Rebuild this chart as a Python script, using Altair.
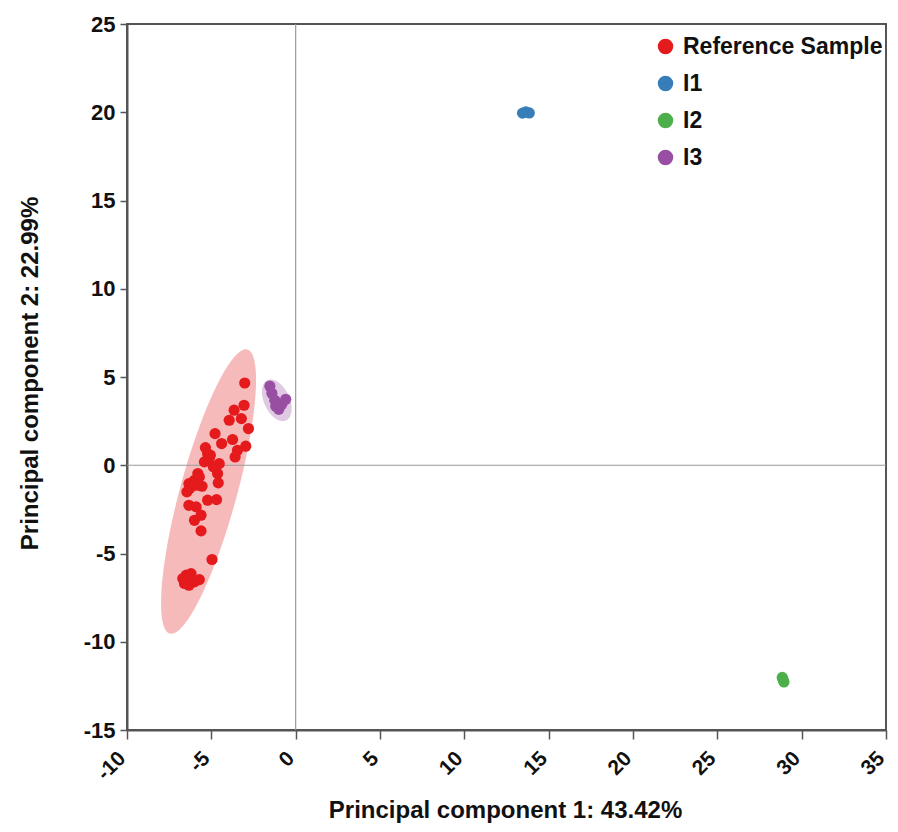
import numpy as np
import pandas as pd
import altair as alt

# ---- data ----
groups = ["Reference Sample", "I1", "I2", "I3"]
colors = ["#E41A1C", "#377EB8", "#4DAF4A", "#984EA3"]

ref_x = [-3.02, -3.06, -3.65, -3.94, -3.22, -2.80, -4.78, -4.39, -3.74, -2.96,
         -3.45, -3.59, -5.35, -5.06, -5.41, -4.53, -4.88, -5.80, -4.63, -6.00,
         -4.59, -6.33, -5.55, -6.45, -5.22, -4.69, -6.33, -5.90, -5.61, -6.00,
         -5.61, -4.96, -6.49, -6.20, -5.71, -6.59, -6.33, -6.69, -6.00, -5.12,
         -5.22, -5.71, -6.29, -5.90]
ref_y = [4.66, 3.40, 3.12, 2.55, 2.64, 2.08, 1.79, 1.23, 1.46, 1.08,
         0.85, 0.47, 1.00, 0.57, 0.19, 0.09, -0.09, -0.47, -0.47, -0.85,
         -1.00, -1.04, -1.19, -1.51, -1.98, -1.95, -2.27, -2.36, -2.83, -3.12,
         -3.72, -5.34, -6.23, -6.14, -6.48, -6.70, -6.80, -6.42, -6.61, 0.38,
         0.66, -0.66, -1.32, -1.13]

i1_x = [13.45, 13.65, 13.85]
i1_y = [19.95, 20.02, 19.96]

i2_x = [28.85, 28.95, 28.90]
i2_y = [-12.02, -12.28, -12.15]

i3_x = [-1.53, -1.41, -1.24, -1.18, -1.00, -0.82, -0.59]
i3_y = [4.48, 4.08, 3.68, 3.34, 3.17, 3.46, 3.74]

# confidence ellipses: centre x, centre y, semi-major, semi-minor, angle (deg)
ell_groups = ["Reference Sample", "I3"]
ell_cx = [-5.165, -1.12]
ell_cy = [-1.49, 3.68]
ell_a = [8.37, 1.27]
ell_b = [1.68, 0.75]
ell_angle = [74.0, -63.0]

x_ticks = list(range(-10, 40, 5))
y_ticks = list(range(-15, 30, 5))

# ---- tables ----
pts = pd.concat([
    pd.DataFrame({"x": ref_x, "y": ref_y, "g": "Reference Sample"}),
    pd.DataFrame({"x": i1_x, "y": i1_y, "g": "I1"}),
    pd.DataFrame({"x": i2_x, "y": i2_y, "g": "I2"}),
    pd.DataFrame({"x": i3_x, "y": i3_y, "g": "I3"}),
], ignore_index=True)

t = np.linspace(0, 2 * np.pi, 160, endpoint=False)
ell_rows = []
for g, cx, cy, a, b, ang in zip(ell_groups, ell_cx, ell_cy, ell_a, ell_b, ell_angle):
    p = np.deg2rad(ang)
    ex = cx + a * np.cos(t) * np.cos(p) - b * np.sin(t) * np.sin(p)
    ey = cy + a * np.cos(t) * np.sin(p) + b * np.sin(t) * np.cos(p)
    ell_rows.append(pd.DataFrame({"x": ex, "y": ey, "g": g, "i": np.arange(len(t))}))
ell = pd.concat(ell_rows, ignore_index=True)

FONT = "Liberation Sans, Arial, sans-serif"

xscale = alt.Scale(domain=[-10, 35], nice=False, zero=False)
yscale = alt.Scale(domain=[-15, 25], nice=False, zero=False)
cscale = alt.Scale(domain=groups, range=colors)

xaxis = alt.Axis(values=x_ticks, grid=False, title="Principal component 1: 43.42%",
                 labelAngle=315, labelAlign="right", labelBaseline="middle",
                 labelPadding=16, labelOffset=-5, labelExpr="'' + datum.value",
                 labelFontSize=21, tickSize=9,
                 titleX=378, titleY=80, titleBaseline="middle", titleAlign="center")
yaxis = alt.Axis(values=y_ticks, grid=False, title="Principal component 2: 22.99%",
                 labelExpr="'' + datum.value", labelPadding=5, tickSize=7,
                 titleX=-97, titleY=349, titleAngle=270, titleBaseline="middle",
                 titleAlign="center")

ell_layers = []
for g, c in zip(ell_groups, [colors[0], colors[3]]):
    ell_layers.append(
        alt.Chart(ell[ell["g"] == g]).mark_line(
            fill=c, fillOpacity=0.3, strokeOpacity=0, interpolate="linear-closed"
        ).encode(
            x=alt.X("x:Q", scale=xscale, axis=xaxis),
            y=alt.Y("y:Q", scale=yscale, axis=yaxis),
            order="i:Q",
        )
    )

zero_df = pd.DataFrame({"v": [0]})
vrule = alt.Chart(zero_df).mark_rule(color="#9a9a9a", strokeWidth=1.2).encode(
    x=alt.X("v:Q", scale=xscale, axis=xaxis))
hrule = alt.Chart(zero_df).mark_rule(color="#9a9a9a", strokeWidth=1.2).encode(
    y=alt.Y("v:Q", scale=yscale, axis=yaxis))

points = alt.Chart(pts).mark_circle(size=125, opacity=1).encode(
    x=alt.X("x:Q", scale=xscale, axis=xaxis),
    y=alt.Y("y:Q", scale=yscale, axis=yaxis),
    color=alt.Color("g:N", scale=cscale, sort=groups,
                    legend=alt.Legend(title=None, orient="none", legendX=527, legendY=11,
                                      symbolType="circle", symbolSize=240,
                                      labelFontSize=23, labelFont=FONT,
                                      labelFontWeight="bold", labelColor="#111",
                                      labelLimit=0,
                                      rowPadding=13, labelOffset=6, padding=0,
                                      symbolStrokeWidth=0)),
)

chart = alt.layer(*ell_layers, vrule, hrule, points).properties(
    width=759, height=706,
    autosize=alt.AutoSizeParams(type="none"),
    padding={"left": 119, "top": 16, "right": 4, "bottom": 100},
).configure_view(
    stroke="#555555", strokeWidth=2
).configure_axis(
    labelFont=FONT, labelFontSize=22, labelFontWeight="bold", labelColor="#111",
    titleFont=FONT, titleFontSize=24, titleFontWeight="bold", titleColor="#111",
    domainColor="#555555", domainWidth=2, tickColor="#555555", tickWidth=1.5,
)

chart.save("out.html", embed_options={"renderer": "svg", "actions": False})
